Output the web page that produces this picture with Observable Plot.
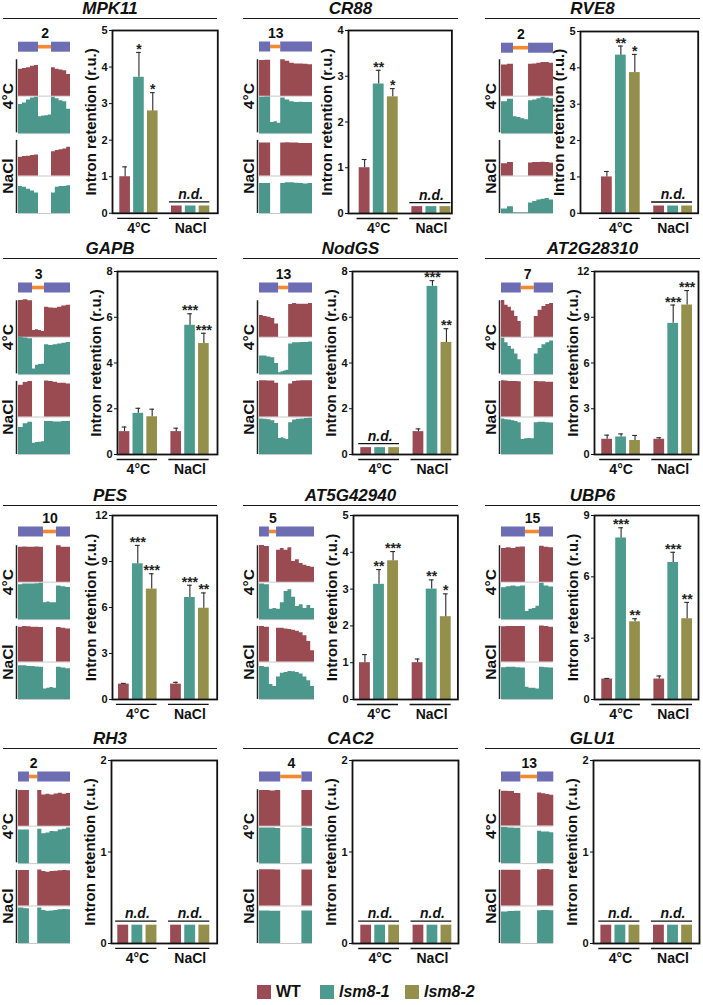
<!DOCTYPE html>
<html><head><meta charset="utf-8">
<script src="https://cdn.jsdelivr.net/npm/d3@7"></script>
<script src="https://cdn.jsdelivr.net/npm/@observablehq/plot@0.6"></script>
<style>
body{margin:0;background:#fff;font-family:"Liberation Sans",Arial,sans-serif;}
#fig{position:relative;width:703px;height:1005px;overflow:hidden;}
.title{position:absolute;text-align:center;font-weight:bold;font-style:italic;font-size:17px;border-bottom:1.3px solid #1a1a1a;height:19px;line-height:19px;color:#111;}
.leg{position:absolute;font-weight:bold;font-size:16px;color:#111;line-height:16px;}
</style></head>
<body><div id="fig"></div>
<script>
// ---------------- DATA ----------------
const genes = ["MPK11","CR88","RVE8","GAPB","NodGS","AT2G28310","PES","AT5G42940","UBP6","RH3","CAC2","GLU1"];
const intronNumber = [2,13,2,3,13,7,10,5,15,2,4,13];
// intron position within the displayed gene model (fraction of width)
const intronSpan = [[0.385,0.635],[0.21,0.40],[0.23,0.52],[0.27,0.50],[0.36,0.55],[0.38,0.63],[0.48,0.73],[0.18,0.31],[0.46,0.73],[0.21,0.37],[0.40,0.80],[0.37,0.69]];
const conditions = ["4°C","NaCl"];
const genotypes = ["WT","lsm8-1","lsm8-2"];
const yMax = [5,4,5,8,8,12,12,5,9,2,2,2];
const yTicks = [[0,1,2,3,4,5],[0,1,2,3,4],[0,1,2,3,4,5],[0,2,4,6,8],[0,2,4,6,8],[0,3,6,9,12],[0,3,6,9,12],[0,1,2,3,4,5],[0,3,6,9],[0,1,2],[0,1,2],[0,1,2]];
// order: 4°C WT, 4°C lsm8-1, 4°C lsm8-2, NaCl WT, NaCl lsm8-1, NaCl lsm8-2 ; null = n.d.
const means = [
  [1.0,3.72,2.8,null,null,null],
  [1.0,2.83,2.55,null,null,null],
  [1.0,4.35,3.87,null,null,null],
  [1.0,1.8,1.65,1.0,5.65,4.85],
  [null,null,null,1.0,7.35,4.9],
  [1.0,1.15,0.92,1.0,8.6,9.8],
  [1.0,8.85,7.2,1.0,6.65,5.95],
  [1.0,3.13,3.77,1.0,3.0,2.25],
  [1.0,7.9,3.8,1.0,6.7,3.95],
  [null,null,null,null,null,null],
  [null,null,null,null,null,null],
  [null,null,null,null,null,null]
];
const errs = [
  [0.27,0.68,0.5,0,0,0],
  [0.18,0.3,0.18,0,0,0],
  [0.15,0.25,0.5,0,0,0],
  [0.2,0.22,0.33,0.15,0.5,0.45],
  [0,0,0,0.12,0.25,0.6],
  [0.27,0.2,0.33,0.1,1.2,0.95],
  [0.05,1.2,1.0,0.12,0.8,1.0],
  [0.22,0.4,0.25,0.1,0.25,0.62],
  [0.03,0.5,0.15,0.15,0.5,0.8],
  [0,0,0,0,0,0],[0,0,0,0,0,0],[0,0,0,0,0,0]
];
const stars = [
  ["","*","*","","",""],
  ["","**","*","","",""],
  ["","**","*","","",""],
  ["","","","","***","***"],
  ["","","","","***","**"],
  ["","","","","***","***"],
  ["","***","***","","***","**"],
  ["","**","***","","**","*"],
  ["","***","**","","***","**"],
  ["","","","","",""],["","","","","",""],["","","","","",""]
];
const ndHeight = [0.2,0.15,0.2,0.2,0.3,0.3,0.3,0.2,0.3,0.2,0.2,0.2];
// coverage profiles (fraction of track height): [left exon, intron, right exon]
const cov4WT = [
  [[0.72,0.74,0.76,0.8,0.82],[0,0,0],[0.76,0.72,0.7,0.68,0.58]],
  [[0.95,0.96],[0,0],[0.97,0.93,0.88,0.86,0.86,0.85,0.84]],
  [[0.83,0.85],[0,0,0],[0.85,0.86,0.88,0.9,0.9,0.88]],
  [[0.98,1.0,0.97],[0.18,0.2,0.18,0.15],[0.8,0.78,0.77,0.8,0.83,0.85]],
  [[0.58,0.55,0.53,0.5,0.35],[0,0],[0.87,0.9,0.88,0.88,0.88,0.9]],
  [[0.98,0.85,0.8,0.7,0.55,0.42],[0,0],[0.55,0.72,0.82,0.87,0.9]],
  [[0.93,0.94,0.93,0.93,0.94,0.93],[0,0],[0.97,0.93,0.93]],
  [[0.98,0.95],[0],[0.85,0.9,0.85,0.92,0.55,0.6,0.5,0.45,0.42,0.4]],
  [[0.9,0.92,0.9,0.93,0.94],[0,0],[0.96,0.93,0.92]],
  [[0.95,0.95],[0],[0.95,0.83,0.85,0.83,0.86,0.88,0.85,0.87]],
  [[0.95,0.95,0.94,0.95],[0],[0.95,0.95]],
  [[0.93,0.92,0.87],[0],[0.88,0.86,0.84,0.82]]
];
const cov4Lsm = [
  [[0.78,0.82,0.9,0.95,0.97],[0.45,0.47,0.48,0.5],[0.97,0.93,0.88,0.85,0.65]],
  [[0.97,0.98],[0.3,0.32,0.28],[0.95,0.9,0.85,0.83,0.84,0.83,0.83]],
  [[0.85,0.92],[0.45,0.43,0.4,0.37],[0.88,0.9,0.93,0.97,0.95,0.93]],
  [[1.0,0.98,0.96],[0.15,0.25,0.27,0.28],[0.8,0.78,0.8,0.82,0.84,0.86]],
  [[0.5,0.5,0.47,0.45,0.3],[0.05,0.08,0.1,0.12],[0.82,0.85,0.85,0.86,0.86,0.87]],
  [[0.97,0.85,0.75,0.68,0.55,0.4],[0,0],[0.55,0.7,0.8,0.85,0.9]],
  [[0.93,0.95,0.95,0.95,0.96,0.97],[0.45,0.47,0.45,0.45],[0.9,0.88,0.86]],
  [[0.95,0.93],[0.28,0.3],[0.28,0.45,0.75,0.8,0.6,0.35,0.4,0.3,0.38,0.3]],
  [[0.85,0.88,0.9,0.88,0.9],[0.22,0.28,0.3,0.36],[0.97,0.9,0.87]],
  [[0.9,0.9],[0],[0.92,0.8,0.82,0.86,0.85,0.9,0.92,0.95]],
  [[0.95,0.95,0.95,0.94],[0],[0.95,0.94]],
  [[0.96,0.95,0.94],[0],[0.86,0.84,0.84,0.82]]
];
const covNaWT = [
  [[0.5,0.52,0.53,0.55,0.56],[0,0,0],[0.65,0.68,0.7,0.72,0.77]],
  [[0.88,0.88],[0,0],[0.88,0.89,0.88,0.88,0.87,0.87,0.87]],
  [[0.33,0.36],[0,0,0],[0.35,0.36,0.36,0.37,0.36,0.35]],
  [[0.85,0.92,0.95],[0,0],[0.96,0.95,0.93,0.9,0.9,0.88]],
  [[0.97,0.97,0.96,0.96,0.9],[0,0],[0.88,0.95,0.96,0.97,0.97,0.97]],
  [[0.97,0.96,0.95,0.95,0.95,0.94],[0,0],[0.95,0.94,0.94,0.93,0.93]],
  [[0.93,0.95,0.94,0.93,0.93,0.92],[0,0],[0.92,0.9,0.88]],
  [[0.95,0.93],[0],[0.9,0.9,0.88,0.87,0.85,0.82,0.78,0.7,0.55,0.3]],
  [[0.94,0.95,0.95,0.95,0.95],[0,0],[0.96,0.95,0.93]],
  [[0.95,0.95],[0],[0.96,0.92,0.9,0.92,0.93,0.94,0.95,0.94]],
  [[0.97,0.97,0.97,0.96],[0],[0.96,0.96]],
  [[0.95,0.95,0.95],[0],[0.96,0.97,0.97,0.96]]
];
const covNaLsm = [
  [[0.72,0.7,0.65,0.6,0.55],[0,0,0],[0.55,0.7,0.72,0.72,0.74]],
  [[0.8,0.8],[0,0],[0.8,0.82,0.82,0.81,0.8,0.79,0.8]],
  [[0.12,0.18],[0.02,0.02,0.02],[0.28,0.32,0.36,0.38,0.4,0.36]],
  [[0.72,0.82,0.86],[0.3,0.32,0.33,0.34],[0.88,0.88,0.87,0.87,0.88,0.88]],
  [[0.95,0.94,0.93,0.9,0.83],[0.43,0.45,0.42,0.4],[0.85,0.92,0.94,0.95,0.96,0.97]],
  [[0.95,0.93,0.92,0.9,0.88,0.85],[0.4,0.42,0.43,0.42],[0.85,0.86,0.86,0.85,0.84]],
  [[0.9,0.9,0.88,0.88,0.87,0.86],[0.28,0.3,0.32,0.3],[0.86,0.84,0.82]],
  [[0.88,0.86],[0.4,0.35],[0.6,0.7,0.72,0.75,0.74,0.72,0.68,0.6,0.5,0.35]],
  [[0.85,0.86,0.86,0.85,0.84],[0.33,0.3,0.3,0.28],[0.86,0.85,0.84]],
  [[0.95,0.93],[0],[0.95,0.88,0.86,0.87,0.88,0.9,0.91,0.9]],
  [[0.87,0.87,0.86,0.86],[0],[0.87,0.87]],
  [[0.84,0.85,0.86],[0],[0.87,0.88,0.88,0.87]]
];

// ---------------- LAYOUT / STYLE ----------------
const barColors = ["#9b4b53","#4d9a8f","#958f4c"];
const covRed = "#9a4a51", covGreen = "#4b978b";
const exonColor = "#6d6db3", intronColor = "#f4892f";
const FONT = '"Liberation Sans", Arial, sans-serif';
const frameL = [111.7,348.3,580.3,117.3,351.7,594,112.3,353.3,594,111,351.7,593.3];
const frameR = [217,451.7,698,217.3,456.7,698,217,457.7,698,216.7,457.7,699.3];
const barsL  = [119,359,601.3,119,360,601.3,118.3,359.3,601.3,117.3,360,600.7];
const barsR  = [209,450.7,692.3,209,451,692,209,451,692,209.3,451,692.3];
const frameT = [29.5,29.5,30.5,271,271,271,515,515,515,760,760,760];
const frameB = [212.3,212.5,212.3,454,454,454,699,699,699,943,943,943];
const geneL = [18,259,501,18,259,501,18,259,501,18,259,500.7];
const geneR = [70,312,553,70,312,553,70,314,553,70,312,553];
const colLine = [[3,217],[243,458],[485,700]];
const rowLine = [18,258,505,748];
const GROUP_OFF = 3.74, HALF = 0.385;

const fig = document.getElementById("fig");
function place(el, left, top) {
  el.style.position = "absolute"; el.style.left = left + "px"; el.style.top = top + "px";
  fig.appendChild(el);
}

genes.forEach((gene, i) => {
  const row = Math.floor(i / 3), col = i % 3;
  // title
  const t = document.createElement("div");
  t.className = "title";
  t.textContent = gene;
  t.style.left = colLine[col][0] + "px";
  t.style.width = (colLine[col][1] - colLine[col][0]) + "px";
  t.style.top = (rowLine[row] - 19) + "px";
  fig.appendChild(t);

  // ---- coverage panel ----
  const B = frameB[i], T = frameT[i] - 8;
  const H = Math.round(B - T + 2);
  const h = 37.5;
  const mLc = Math.min(20, geneL[i]);
  const gw = geneR[i] - geneL[i];
  const [s, e] = intronSpan[i];
  const tracks = [cov4WT[i], cov4Lsm[i], covNaWT[i], covNaLsm[i]];
  const base = [3.13, 2.13, 1, 0];
  const fills = [covRed, covGreen, covRed, covGreen];
  const bounds = [[0, s], [s, e], [e, 1]];
  const pts = tracks.map((segs, k) => {
    const out = [];
    segs.forEach((vals, j) => {
      const [a, b] = bounds[j];
      vals.forEach((v, m) => out.push({x: a + m * (b - a) / vals.length, y0: base[k], y1: base[k] + v}));
    });
    const last = segs[2][segs[2].length - 1];
    out.push({x: 1, y0: base[k], y1: base[k] + last});
    return out;
  });
  const gc = (B - (frameT[i] + 16.5)) / h;
  const numY = (B - (frameT[i] + 3)) / h;
  const exons = [{x1: 0, x2: s}, {x1: e, x2: 1}];
  const cov = Plot.plot({
    width: gw + mLc + 2, height: H,
    marginLeft: mLc, marginRight: 2, marginTop: 0, marginBottom: 2,
    x: {domain: [0, 1], axis: null},
    y: {domain: [0, (H - 2) / h], axis: null},
    style: {background: "none", fontFamily: FONT, overflow: "visible"},
    marks: [
      Plot.ruleY(base, {y: d => d, x1: 0, x2: 1, stroke: "#c9c9c9", strokeWidth: 1}),
      ...pts.map((p, k) => Plot.areaY(p, {x: "x", y1: "y0", y2: "y1", fill: fills[k], curve: "step-after"})),
      Plot.rect([{x1: s, x2: e}], {x1: "x1", x2: "x2", y1: gc - 1.8 / h, y2: gc + 1.8 / h, fill: intronColor}),
      Plot.rect(exons, {x1: "x1", x2: "x2", y1: gc - 5 / h, y2: gc + 5 / h, fill: exonColor}),
      Plot.text([String(intronNumber[i])], {x: (s + e) / 2, y: numY, text: d => d, fontSize: 14, fontWeight: "bold", fill: "#111"}),
      Plot.ruleX([[2.15, 4.1], [0, 1.95]], {x: 0, dx: -2, y1: d => d[0], y2: d => d[1], stroke: "#222", strokeWidth: 1.5}),
      Plot.text(conditions, {x: 0, dx: -10, y: (d, j) => j === 0 ? 3.13 : 1, text: d => d, rotate: -90, fontSize: 15.5, fontWeight: "bold", fill: "#111"})
    ]
  });
  place(cov, geneL[i] - mLc, T);

  // ---- bar chart ----
  const pxPerU = (barsR[i] - barsL[i]) / (2 + GROUP_OFF + 2 * HALF);
  const x0 = -HALF - (barsL[i] - frameL[i]) / pxPerU;
  const x1 = 2 + GROUP_OFF + HALF + (frameR[i] - barsR[i]) / pxPerU;
  const mL = 48, mR = 2, mT = 9, mB = 30;
  const W = frameR[i] - frameL[i] + mL + mR;
  const HH = frameB[i] - frameT[i] + mT + mB;
  const bars = [], groups = [];
  conditions.forEach((c, g) => {
    let nd = true;
    genotypes.forEach((gt, k) => {
      const idx = g * 3 + k;
      const m = means[i][idx];
      if (m !== null) nd = false;
      bars.push({u: g * GROUP_OFF + k, geno: gt, v: m === null ? ndHeight[i] : m, mean: m, err: errs[i][idx], star: stars[i][idx]});
    });
    groups.push({cond: c, u: g * GROUP_OFF + 1, nd});
  });
  const real = bars.filter(d => d.mean !== null);
  const ndGroups = groups.filter(d => d.nd);
  const bp = Plot.plot({
    width: W, height: HH,
    marginLeft: mL, marginRight: mR, marginTop: mT, marginBottom: mB,
    x: {domain: [x0, x1], axis: null},
    y: {domain: [0, yMax[i]], ticks: yTicks[i], tickFormat: d => String(d), tickSize: 3, tickPadding: 2, label: null},
    color: {domain: genotypes, range: barColors},
    style: {background: "none", fontFamily: FONT, fontSize: "11px", fontWeight: "bold", color: "#111", overflow: "visible"},
    marks: [
      Plot.rect(bars, {x1: d => d.u - HALF, x2: d => d.u + HALF, y1: 0, y2: "v", fill: "geno"}),
      Plot.ruleX(real.filter(d => d.err > 0), {x: "u", y1: "mean", y2: d => d.mean + d.err, stroke: "#2a2a2a", strokeWidth: 1.1}),
      Plot.ruleY(real.filter(d => d.err > 0), {y: d => d.mean + d.err, x1: d => d.u - 0.17, x2: d => d.u + 0.17, stroke: "#2a2a2a", strokeWidth: 1.1}),
      Plot.text(real.filter(d => d.star), {x: "u", y: d => d.mean + d.err, text: "star", dy: -3, fontSize: 14, fontWeight: "bold", fill: "#222"}),
      Plot.ruleY(ndGroups, {y: ndHeight[i], dy: -4, x1: d => d.u - 1 - HALF - 0.15, x2: d => d.u + 1 + HALF, stroke: "#111", strokeWidth: 1.3}),
      Plot.text(ndGroups, {x: "u", y: ndHeight[i], dy: -7, lineAnchor: "bottom", text: () => "n.d.", fontSize: 14, fontWeight: "bold", fontStyle: "italic", fill: "#111"}),
      Plot.frame({stroke: "#111", strokeWidth: 1.8}),
      Plot.ruleY(groups, {y: 0, dy: 5, x1: d => d.u - 1 - HALF - 0.15, x2: d => d.u + 1 + HALF, stroke: "#111", strokeWidth: 1.3}),
      Plot.text(groups, {x: "u", y: 0, dy: 10, lineAnchor: "top", text: "cond", fontSize: 14, fontWeight: "bold", fill: "#111"}),
      Plot.text(["Intron retention (r.u.)"], {frameAnchor: "left", text: d => d, rotate: -90, dx: -21, textAnchor: "middle", fontSize: 15, fontWeight: "bold", fill: "#111"})
    ]
  });
  place(bp, frameL[i] - mL, frameT[i] - mT);
});

// legend
const legX = [257, 320, 405];
genotypes.forEach((gt, k) => {
  const sq = document.createElement("div");
  sq.style.cssText = `position:absolute;left:${legX[k]}px;top:985px;width:14px;height:14px;background:${barColors[k]};`;
  fig.appendChild(sq);
  const lab = document.createElement("div");
  lab.className = "leg";
  lab.textContent = gt;
  lab.style.left = (legX[k] + 19) + "px";
  lab.style.top = "984px";
  if (k > 0) lab.style.fontStyle = "italic";
  fig.appendChild(lab);
});
</script></body></html>
